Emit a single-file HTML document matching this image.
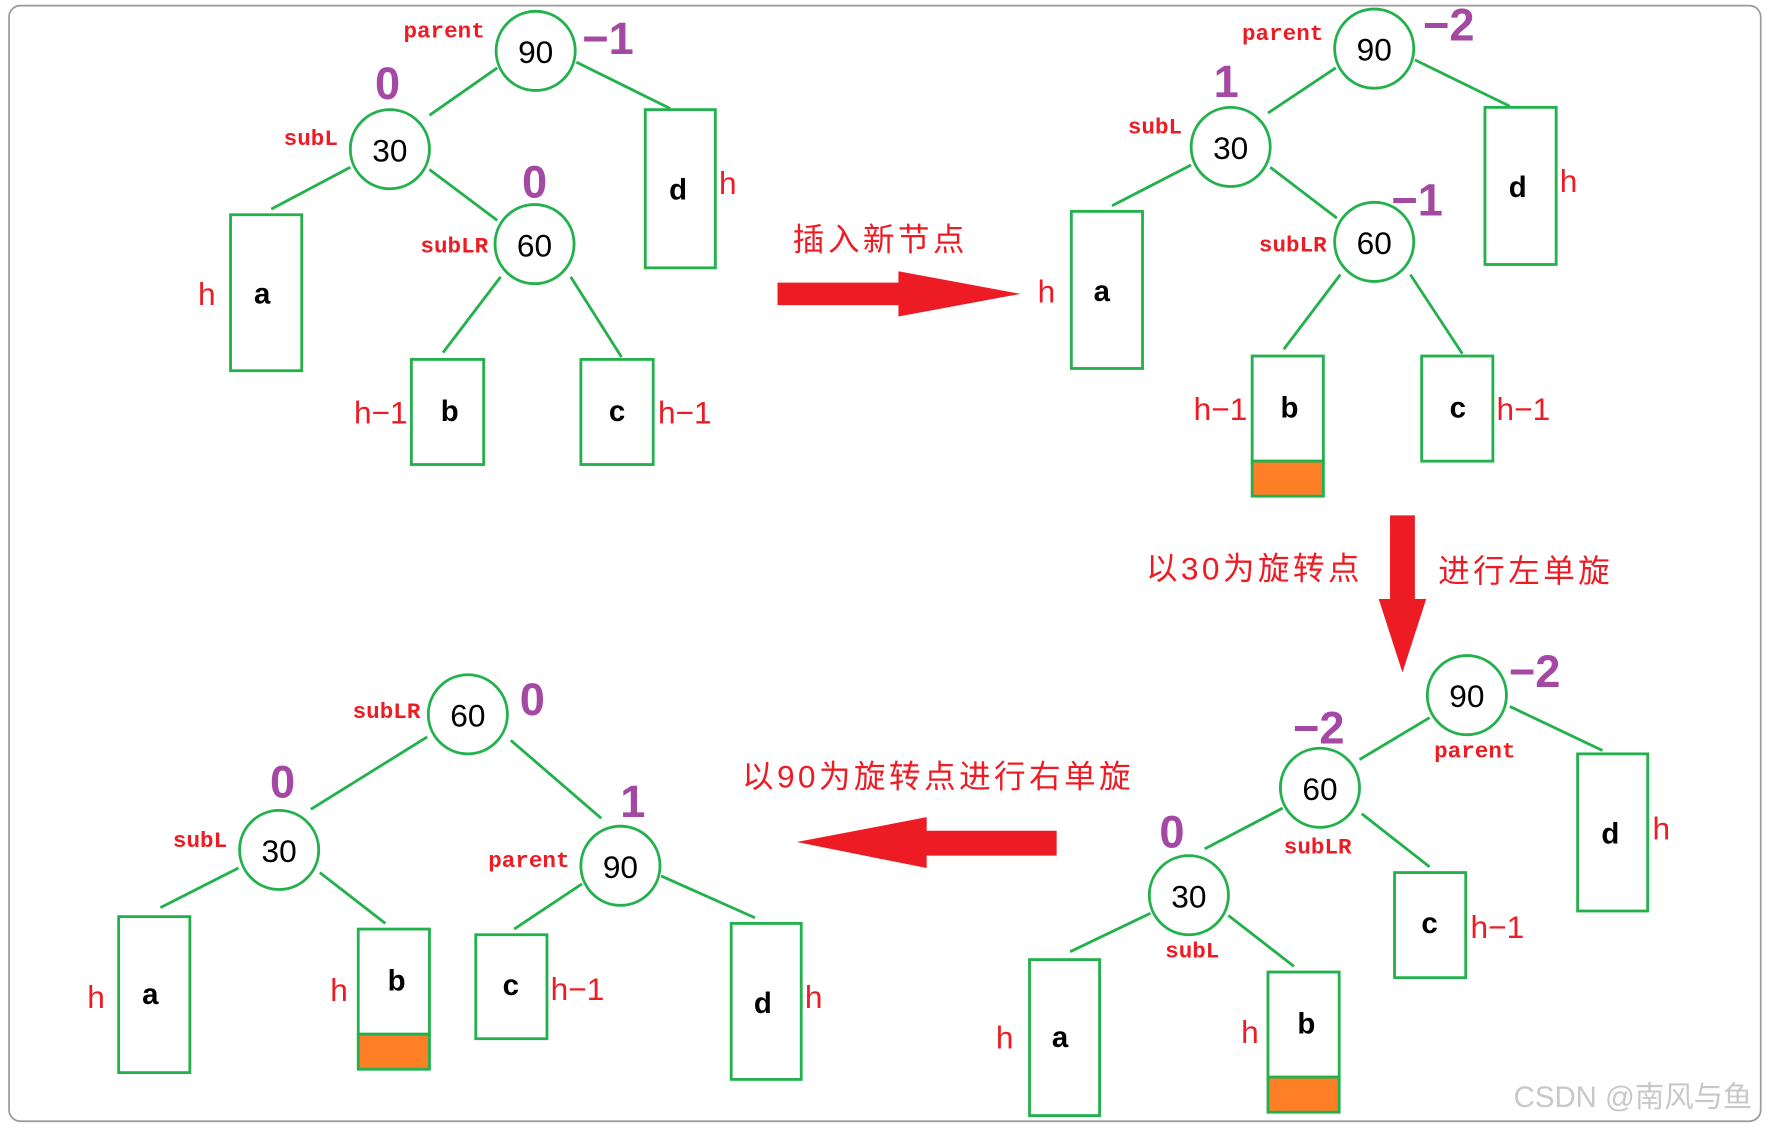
<!DOCTYPE html>
<html><head><meta charset="utf-8"><style>
html,body{margin:0;padding:0;background:#fff;width:1772px;height:1128px;overflow:hidden}
svg{display:block}
.n{font:28px "Liberation Sans","Noto Sans CJK SC",sans-serif;fill:#000;text-anchor:middle;dominant-baseline:central}
.l{font:bold 26px "Liberation Sans",sans-serif;fill:#000;text-anchor:middle;dominant-baseline:central}
.r{font:bold 20px "Liberation Mono",monospace;fill:#ed1c24;text-anchor:middle;dominant-baseline:central}
.h{font:28px "Liberation Sans",sans-serif;fill:#ed1c24;text-anchor:middle;dominant-baseline:central}
.p{font:bold 40px "Liberation Sans",sans-serif;fill:#a349a4;text-anchor:middle;dominant-baseline:central}
.c{font:28px "Liberation Sans","Noto Sans CJK SC",sans-serif;fill:#ed1c24;text-anchor:middle;dominant-baseline:central;letter-spacing:3px}
circle,rect.g{fill:#fff;stroke:#22b14c;stroke-width:2.5}
line{stroke:#22b14c;stroke-width:2.5}
rect.o{fill:#ff7f27;stroke:#22b14c;stroke-width:2.5}
</style></head><body>
<svg width="1772" height="1128" viewBox="0 0 1568 998" preserveAspectRatio="none">
<rect x="8" y="5" width="1550" height="987" rx="10" fill="#fff" stroke="#999" stroke-width="1.5"/>

<!-- top-left -->
<line x1="440" y1="60" x2="380" y2="102"/><line x1="510" y1="55" x2="593" y2="96"/>
<line x1="310" y1="148" x2="240" y2="185"/><line x1="380" y1="150" x2="440" y2="195"/>
<line x1="443" y1="245" x2="392" y2="312"/><line x1="505" y1="245" x2="550" y2="316"/>
<circle cx="474" cy="45" r="35"/><text class="n" x="474" y="46">90</text>
<circle cx="345" cy="132" r="35"/><text class="n" x="345" y="133">30</text>
<circle cx="473" cy="216" r="35"/><text class="n" x="473" y="217">60</text>
<text class="r" x="393" y="28">parent</text><text class="p" x="538" y="34">−1</text>
<text class="p" x="343" y="74">0</text><text class="r" x="275" y="123">subL</text>
<text class="p" x="473" y="161">0</text><text class="r" x="402" y="218">subLR</text>
<rect class="g" x="571" y="97" width="62" height="140"/><text class="l" x="600" y="168">d</text><text class="h" x="644" y="162">h</text>
<rect class="g" x="204" y="190" width="63" height="138"/><text class="l" x="232" y="260">a</text><text class="h" x="183" y="260">h</text>
<rect class="g" x="364" y="318" width="64" height="93"/><text class="l" x="398" y="364">b</text><text class="h" x="337" y="365">h−1</text>
<rect class="g" x="514" y="318" width="64" height="93"/><text class="l" x="546" y="364">c</text><text class="h" x="606" y="365">h−1</text>

<polygon fill="#ed1c24" points="688,250 795,250 795,240 903,260 795,280 795,270 688,270"/>
<text class="c" x="779" y="212">插入新节点</text>

<!-- top-right -->
<line x1="1182" y1="60" x2="1122" y2="100"/><line x1="1252" y1="53" x2="1336" y2="94"/>
<line x1="1054" y1="146" x2="984" y2="182"/><line x1="1124" y1="148" x2="1183" y2="193"/>
<line x1="1186" y1="243" x2="1136" y2="309"/><line x1="1248" y1="243" x2="1294" y2="313"/>
<circle cx="1216" cy="43" r="35"/><text class="n" x="1216" y="44">90</text>
<circle cx="1089" cy="130" r="35"/><text class="n" x="1089" y="131">30</text>
<circle cx="1216" cy="214" r="35"/><text class="n" x="1216" y="215">60</text>
<text class="r" x="1135" y="30">parent</text><text class="p" x="1282" y="22">−2</text>
<text class="p" x="1085" y="72">1</text><text class="r" x="1022" y="113">subL</text>
<text class="p" x="1254" y="177">−1</text><text class="r" x="1144" y="217">subLR</text>
<rect class="g" x="1314" y="95" width="63" height="139"/><text class="l" x="1343" y="166">d</text><text class="h" x="1388" y="160">h</text>
<rect class="g" x="948" y="187" width="63" height="139"/><text class="l" x="975" y="258">a</text><text class="h" x="926" y="258">h</text>
<rect class="g" x="1108" y="315" width="63" height="93"/><rect class="o" x="1108" y="408" width="63" height="31"/><text class="l" x="1141" y="361">b</text><text class="h" x="1080" y="362">h−1</text>
<rect class="g" x="1258" y="315" width="63" height="93"/><text class="l" x="1290" y="361">c</text><text class="h" x="1348" y="362">h−1</text>

<polygon fill="#ed1c24" points="1230,456 1252,456 1252,530 1262,530 1241,595 1220,530 1230,530"/>
<text class="c" x="1110" y="503">以30为旋转点</text><text class="c" x="1350" y="505">进行左单旋</text>

<!-- bottom-right -->
<line x1="1265" y1="635" x2="1203" y2="672"/><line x1="1336" y1="625" x2="1418" y2="664"/>
<line x1="1135" y1="715" x2="1066" y2="751"/><line x1="1205" y1="720" x2="1265" y2="767"/>
<line x1="1018" y1="808" x2="947" y2="842"/><line x1="1087" y1="810" x2="1145" y2="855"/>
<circle cx="1298" cy="615" r="35"/><text class="n" x="1298" y="616">90</text>
<circle cx="1168" cy="697" r="35"/><text class="n" x="1168" y="698">60</text>
<circle cx="1052" cy="792" r="35"/><text class="n" x="1052" y="793">30</text>
<text class="p" x="1358" y="594">−2</text><text class="r" x="1305" y="665">parent</text>
<text class="p" x="1167" y="644">−2</text><text class="r" x="1166" y="750">subLR</text>
<text class="p" x="1037" y="736">0</text><text class="r" x="1055" y="842">subL</text>
<rect class="g" x="1396" y="667" width="62" height="139"/><text class="l" x="1425" y="738">d</text><text class="h" x="1470" y="733">h</text>
<rect class="g" x="1234" y="772" width="63" height="93"/><text class="l" x="1265" y="817">c</text><text class="h" x="1325" y="820">h−1</text>
<rect class="g" x="911" y="849" width="62" height="138"/><text class="l" x="938" y="918">a</text><text class="h" x="889" y="918">h</text>
<rect class="g" x="1122" y="860" width="63" height="93"/><rect class="o" x="1122" y="953" width="63" height="31"/><text class="l" x="1156" y="906">b</text><text class="h" x="1106" y="913">h</text>

<polygon fill="#ed1c24" points="935,735 820,735 820,723 705,745 820,768 820,757 935,757"/>
<text class="c" x="830" y="687">以90为旋转点进行右单旋</text>

<!-- bottom-left -->
<line x1="378" y1="652" x2="275" y2="716"/><line x1="452" y1="655" x2="532" y2="724"/>
<line x1="211" y1="768" x2="142" y2="803"/><line x1="283" y1="772" x2="341" y2="817"/>
<line x1="515" y1="782" x2="455" y2="822"/><line x1="585" y1="775" x2="668" y2="812"/>
<circle cx="414" cy="632" r="35"/><text class="n" x="414" y="633">60</text>
<circle cx="247" cy="752" r="35"/><text class="n" x="247" y="753">30</text>
<circle cx="549" cy="766" r="35"/><text class="n" x="549" y="767">90</text>
<text class="r" x="342" y="630">subLR</text><text class="p" x="471" y="619">0</text>
<text class="p" x="250" y="692">0</text><text class="r" x="177" y="744">subL</text>
<text class="p" x="560" y="709">1</text><text class="r" x="468" y="762">parent</text>
<rect class="g" x="105" y="811" width="63" height="138"/><text class="l" x="133" y="880">a</text><text class="h" x="85" y="882">h</text>
<rect class="g" x="317" y="822" width="63" height="93"/><rect class="o" x="317" y="915" width="63" height="31"/><text class="l" x="351" y="868">b</text><text class="h" x="300" y="876">h</text>
<rect class="g" x="421" y="827" width="63" height="92"/><text class="l" x="452" y="872">c</text><text class="h" x="511" y="875">h−1</text>
<rect class="g" x="647" y="817" width="62" height="138"/><text class="l" x="675" y="888">d</text><text class="h" x="720" y="882">h</text>

<text x="1445" y="971" style="font:26px 'Liberation Sans','Noto Sans CJK SC',sans-serif;fill:#c8c8c8;text-anchor:middle;dominant-baseline:central">CSDN @南风与鱼</text>
</svg>
</body></html>
